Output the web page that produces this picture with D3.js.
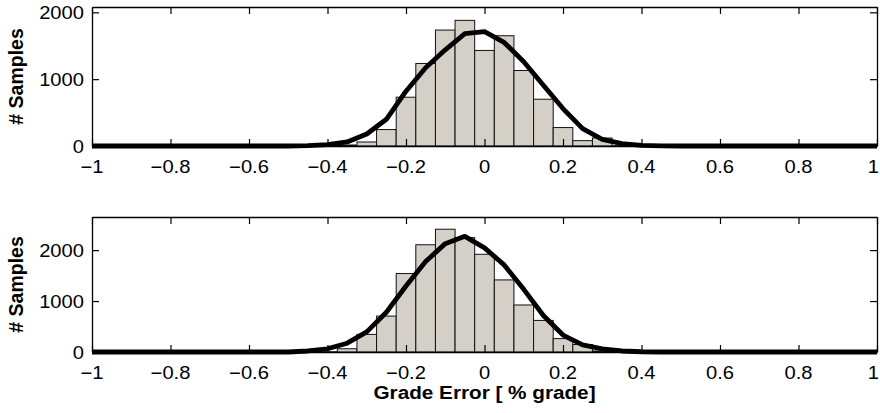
<!DOCTYPE html>
<html><head><meta charset="utf-8">
<script src="https://cdn.jsdelivr.net/npm/d3@7"></script>
<style>body{margin:0;background:#fff}svg{display:block}text{font-family:"Liberation Sans",Arial,Helvetica,sans-serif;fill:#000}</style>
</head><body><svg id="c" width="880" height="413"></svg>
<script>
const binCenters = [-1,-0.95,-0.9,-0.85,-0.8,-0.75,-0.7,-0.65,-0.6,-0.55,-0.5,-0.45,-0.4,-0.35,-0.3,-0.25,-0.2,-0.15,-0.1,-0.05,0,0.05,0.1,0.15,0.2,0.25,0.3,0.35,0.4,0.45,0.5,0.55,0.6,0.65,0.7,0.75,0.8,0.85,0.9,0.95,1];
const topCounts   = [0,0,0,0,0,0,0,0,0,0,0,0,3,15,60,246,730,1235,1735,1880,1430,1650,1130,700,276,80,120,5,0,0,0,0,0,0,0,0,0,0,0,0,0];
const topFit      = [0,0,0,0,0,0,0,0,0,0,0,5,20,60,180,400,820,1170,1440,1680,1710,1550,1260,910,560,260,100,35,10,3,0,0,0,0,0,0,0,0,0,0,0];
const botCounts   = [0,0,0,0,0,0,0,0,0,0,0,0,5,64,346,705,1540,2105,2410,2245,1918,1415,923,620,263,147,20,3,0,0,0,0,0,0,0,0,0,0,0,0,0];
const botFit      = [0,0,0,0,0,0,0,0,0,0,0,20,63,173,396,780,1295,1775,2127,2270,2045,1710,1230,717,333,140,60,20,5,0,0,0,0,0,0,0,0,0,0,0,0];
const xTicks = [-1,-0.8,-0.6,-0.4,-0.2,0,0.2,0.4,0.6,0.8,1];
const xTickLabels = ["\u22121","\u22120.8","\u22120.6","\u22120.4","\u22120.2","0","0.2","0.4","0.6","0.8","1"];
const yTicks = [0,1000,2000];
const yTickLabels = ["0","1000","2000"];
const binWidth = 0.05;
const yLabel = "# Samples";
const xLabel = "Grade Error [ % grade]";

const svg = d3.select("#c");
const L = 92, R = 877;
const x = d3.scaleLinear().domain([-1,1]).range([L,R]);
const SX = 1.12;

function panel(counts, fit, ymax, top, bottom, showXLabel){
  const y = d3.scaleLinear().domain([0,ymax]).range([bottom, top]);
  const g = svg.append("g");
  g.selectAll("rect.bar").data(binCenters.map((c,i)=>({c, v:counts[i]})))
    .join("rect").attr("class","bar")
    .attr("x", d=>x(d.c-binWidth/2)).attr("width", d=>x(d.c+binWidth/2)-x(d.c-binWidth/2))
    .attr("y", d=>y(d.v)).attr("height", d=>y(0)-y(d.v))
    .attr("fill","#d4d0c8").attr("stroke","#111").attr("stroke-width",1);
  const tl = 7;
  const axB = g.append("g").attr("transform",`translate(0,${bottom})`)
    .call(d3.axisBottom(x).tickValues(xTicks).tickSizeInner(-tl).tickSizeOuter(0).tickFormat(""));
  const axT = g.append("g").attr("transform",`translate(0,${top})`)
    .call(d3.axisTop(x).tickValues(xTicks).tickSizeInner(-tl).tickSizeOuter(0).tickFormat(""));
  const axL = g.append("g").attr("transform",`translate(${L},0)`)
    .call(d3.axisLeft(y).tickValues(yTicks).tickSizeInner(-tl).tickSizeOuter(0).tickFormat(""));
  const axR = g.append("g").attr("transform",`translate(${R},0)`)
    .call(d3.axisRight(y).tickValues(yTicks).tickSizeInner(-tl).tickSizeOuter(0).tickFormat(""));
  [axB,axT,axL,axR].forEach(a=>{a.selectAll("path.domain").attr("stroke","#000").attr("stroke-width",1.3);
    a.selectAll("line").attr("stroke","#000").attr("stroke-width",1.2);});
  const line = d3.line().x((d,i)=>x(binCenters[i])).y(d=>y(d));
  g.append("path").datum(fit).attr("d", line).attr("fill","none")
    .attr("stroke","#000").attr("stroke-width",4.8).attr("stroke-linejoin","round");
  const n = xTicks.length;
  g.selectAll("text.xt").data(xTicks).join("text").attr("class","xt")
    .attr("transform", (d,i)=>`translate(${i===n-1 ? 879 : x(d)},${bottom+26.5}) scale(${SX},1)`)
    .attr("text-anchor",(d,i)=> i===n-1 ? "end" : "middle").attr("font-size",18).text((d,i)=>xTickLabels[i]);
  g.selectAll("text.yt").data(yTicks).join("text").attr("class","yt")
    .attr("transform", d=>`translate(${L-8},${y(d)+6.5}) scale(${SX},1)`)
    .attr("text-anchor","end").attr("font-size",18).text((d,i)=>yTickLabels[i]);
  g.append("text").attr("transform",`translate(23,${(top+bottom)/2}) rotate(-90)`)
    .attr("text-anchor","middle").attr("font-size",19.5).attr("font-weight","bold").text(yLabel);
  if(showXLabel){
    g.append("text").attr("transform",`translate(${(L+R)/2},${bottom+46.5}) scale(${SX},1)`)
      .attr("text-anchor","middle").attr("font-size",18.5).attr("font-weight","bold").text(xLabel);
  }
}
panel(topCounts, topFit, 2080, 7, 146, false);
panel(botCounts, botFit, 2650, 217, 352, true);
</script></body></html>
